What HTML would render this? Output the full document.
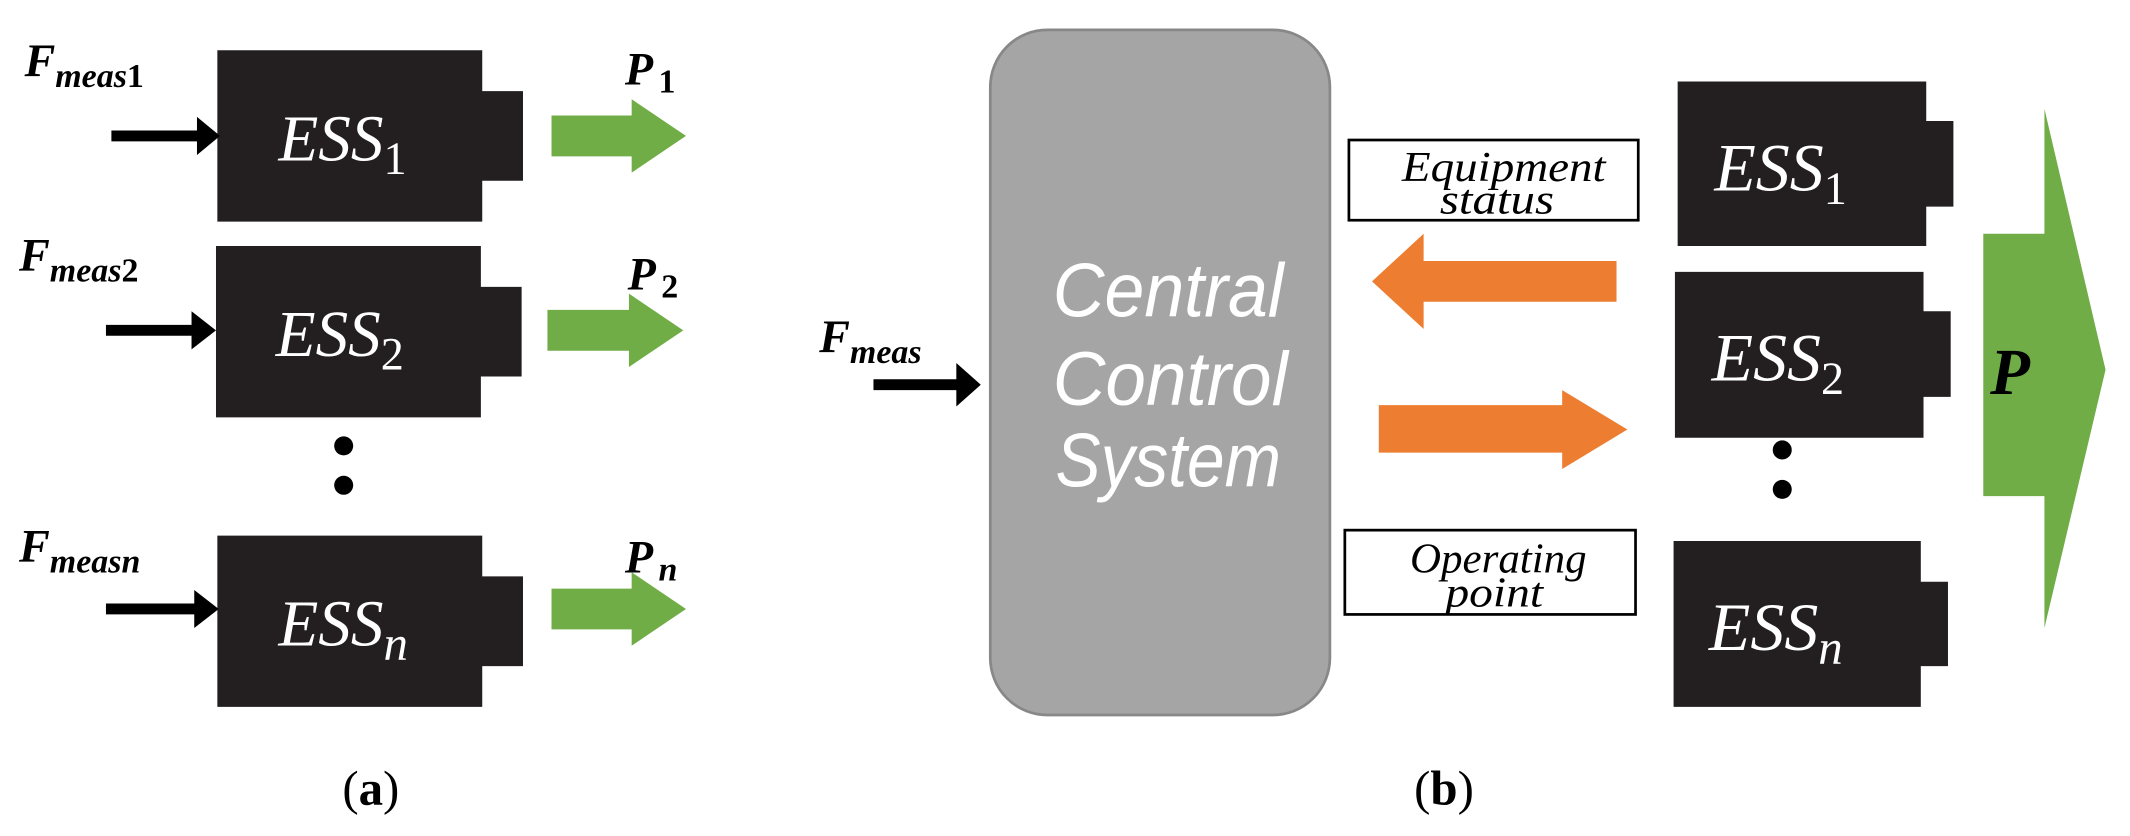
<!DOCTYPE html>
<html><head><meta charset="utf-8"><style>html,body{margin:0;padding:0;background:#fff}svg{display:block}</style></head>
<body>
<svg width="2130" height="836" viewBox="0 0 1568 615" preserveAspectRatio="none" xmlns="http://www.w3.org/2000/svg">
<defs>
<g id="bat">
<path d="M0 0H195V30H225V96H195V126H0Z" fill="#231f20"/>
</g>
</defs>
<g font-family="Liberation Serif, serif">
<use href="#bat" x="160" y="37"/>
<use href="#bat" x="159" y="181"/>
<use href="#bat" x="160" y="394"/>
<g fill="#fff" font-style="italic" font-size="48">
<text x="205" y="118">ESS<tspan font-size="34" dy="10" font-style="normal">1</tspan></text>
<text x="203" y="262">ESS<tspan font-size="34" dy="10" font-style="normal">2</tspan></text>
<text x="205" y="475">ESS<tspan font-size="36" dy="10">n</tspan></text>
</g>
<circle cx="253" cy="328" r="7" fill="#000"/>
<circle cx="253" cy="357" r="7" fill="#000"/>
<g fill="#000">
<path d="M82 96H145V86L162 100L145 114V104H82Z"/>
<path d="M78 239H141V229L159 243L141 257V247H78Z"/>
<path d="M78 444H143V434L161 448L143 462V452H78Z"/>
<path d="M643 279H704V267L722 283L704 299V287H643Z"/>
</g>
<g font-weight="bold" font-style="italic" fill="#000">
<text x="18" y="56" font-size="34">F<tspan font-size="25" dy="8">meas</tspan><tspan font-size="25" font-style="normal">1</tspan></text>
<text x="14" y="199" font-size="34">F<tspan font-size="25" dy="8">meas</tspan><tspan font-size="25" font-style="normal">2</tspan></text>
<text x="14" y="413" font-size="34">F<tspan font-size="25" dy="8">measn</tspan></text>
<text x="603" y="259" font-size="34">F<tspan font-size="25" dy="8">meas</tspan></text>
<text x="460" y="62" font-size="34">P<tspan font-size="25" dy="6" dx="4" font-style="normal">1</tspan></text>
<text x="462" y="213" font-size="34">P<tspan font-size="25" dy="6" dx="4" font-style="normal">2</tspan></text>
<text x="460" y="421" font-size="34">P<tspan font-size="25" dy="6" dx="4">n</tspan></text>
</g>
<g fill="#70ad47">
<path d="M406 85H465V73L505 100L465 127V115H406Z"/>
<path d="M403 228H463V216L503 243L463 270V258H403Z"/>
<path d="M406 433H465V421L505 448L465 475V463H406Z"/>
<path d="M1460 172H1505V80L1550 272L1505 462V365H1460Z"/>
</g>
<text x="1465" y="290" font-size="48" font-weight="bold" font-style="italic" fill="#000">P</text>
<rect x="729" y="22" width="250" height="504" rx="42" fill="#a5a5a5" stroke="#888" stroke-width="2"/>
<g fill="#fff" font-family="Liberation Sans, sans-serif" font-style="italic" font-size="56">
<text x="775" y="233" textLength="170" lengthAdjust="spacingAndGlyphs">Central</text>
<text x="775" y="298" textLength="173" lengthAdjust="spacingAndGlyphs">Control</text>
<text x="777" y="358" textLength="166" lengthAdjust="spacingAndGlyphs">System</text>
</g>
<rect x="993" y="103" width="213" height="59" fill="#fff" stroke="#000" stroke-width="2"/>
<rect x="990" y="390" width="214" height="62" fill="#fff" stroke="#000" stroke-width="2"/>
<g font-style="italic" font-size="31" fill="#000">
<text x="1032" y="133" textLength="150" lengthAdjust="spacingAndGlyphs">Equipment</text>
<text x="1060" y="157" textLength="84" lengthAdjust="spacingAndGlyphs">status</text>
<text x="1038" y="421" textLength="130" lengthAdjust="spacingAndGlyphs">Operating</text>
<text x="1064" y="446" textLength="72" lengthAdjust="spacingAndGlyphs">point</text>
</g>
<g fill="#ed7d31">
<path d="M1190 192H1048V172L1010 207L1048 242V222H1190Z"/>
<path d="M1015 298H1150V287L1198 316L1150 345V333H1015Z"/>
</g>
<path d="M1235 60H1418V89H1438V152H1418V181H1235Z" fill="#231f20"/>
<path d="M1233 200H1416V229H1436V292H1416V322H1233Z" fill="#231f20"/>
<path d="M1232 398H1414V428H1434V490H1414V520H1232Z" fill="#231f20"/>
<g fill="#fff" font-style="italic" font-size="50">
<text x="1262" y="140">ESS<tspan font-size="34" dy="10" font-style="normal">1</tspan></text>
<text x="1260" y="280">ESS<tspan font-size="34" dy="10" font-style="normal">2</tspan></text>
<text x="1258" y="478">ESS<tspan font-size="36" dy="10">n</tspan></text>
</g>
<circle cx="1312" cy="331" r="7" fill="#000"/>
<circle cx="1312" cy="360" r="7" fill="#000"/>
<g font-size="36" fill="#000" text-anchor="middle">
<text x="273" y="592">(<tspan font-weight="bold">a</tspan>)</text>
<text x="1063" y="592">(<tspan font-weight="bold">b</tspan>)</text>
</g>
</g>
</svg>
</body></html>
